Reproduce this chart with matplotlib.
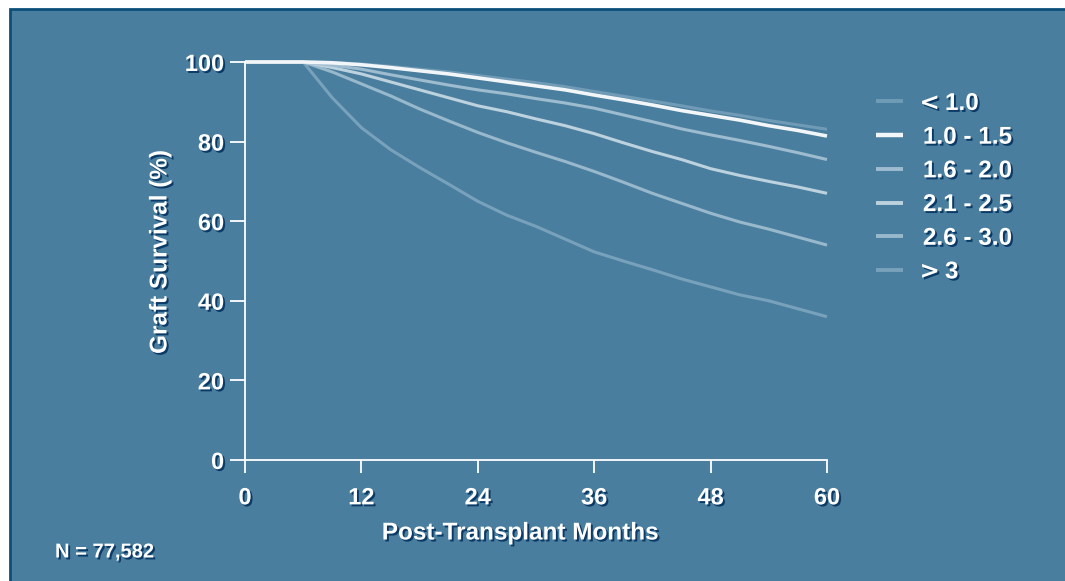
import matplotlib
matplotlib.use("Agg")
import matplotlib.pyplot as plt
import matplotlib.patheffects as pe
from matplotlib.patches import Rectangle

# months after transplant
months = [0, 6, 9, 12, 15, 18, 21, 24, 27, 30, 33, 36, 39, 42, 45, 48, 51, 54, 57, 60]

# graft survival (%) per group
surv_lt_1_0 = [100, 100, 99.9, 99.5, 98.9, 98.2, 97.5, 96.6, 95.7, 94.8, 93.8, 92.6,
               91.4, 90.2, 89.0, 87.7, 86.6, 85.3, 84.2, 83.1]
surv_1_0_1_5 = [100, 100, 99.8, 99.3, 98.6, 97.8, 97.0, 96.0, 95.0, 94.0, 93.0, 91.7,
                90.5, 89.2, 87.8, 86.6, 85.4, 84.0, 82.8, 81.4]
surv_1_6_2_0 = [100, 100, 99.2, 98.2, 96.8, 95.5, 94.2, 93.0, 92.0, 90.8, 89.7, 88.4,
                86.7, 85.0, 83.2, 81.7, 80.3, 78.8, 77.2, 75.5]
surv_2_1_2_5 = [100, 100, 98.6, 97.0, 95.0, 93.0, 91.0, 89.0, 87.5, 85.7, 84.0, 82.0,
                79.7, 77.5, 75.5, 73.2, 71.5, 70.0, 68.6, 67.0]
surv_2_6_3_0 = [100, 100, 97.5, 94.5, 91.5, 88.2, 85.2, 82.3, 79.7, 77.3, 75.0, 72.5,
                69.8, 67.0, 64.5, 62.0, 59.8, 58.0, 56.0, 54.0]
surv_gt_3 = [100, 100, 91.0, 83.5, 78.0, 73.5, 69.3, 65.0, 61.5, 58.7, 55.5, 52.3,
             50.0, 47.8, 45.5, 43.5, 41.5, 40.0, 38.0, 36.0]

labels = [r"$\!\!<$1.0", "1.0 - 1.5", "1.6 - 2.0", "2.1 - 2.5", "2.6 - 3.0", r"$\!\!>$3"]
series = [surv_lt_1_0, surv_1_0_1_5, surv_1_6_2_0, surv_2_1_2_5, surv_2_6_3_0, surv_gt_3]
colors = ["#6f9bb6", "#f2f6f9", "#9dbccf", "#bcd2df", "#98b8cc", "#78a1bb"]
widths = [2.2, 2.6, 2.2, 2.2, 2.2, 2.2]

BG = "#4a7e9e"
EDGE = "#0d4f7a"
SHADOW = [pe.withSimplePatchShadow(offset=(1.4, -1.4), shadow_rgbFace="#0b3a66", alpha=1.0)]

plt.rcParams["font.family"] = ["Liberation Sans", "DejaVu Sans"]
plt.rcParams["font.weight"] = "bold"

fig = plt.figure(figsize=(10.65, 5.81), dpi=100)
fig.patch.set_facecolor("white")
fig.patches.append(Rectangle((10 / 1065, -0.05), 1.1, 1 - 9 / 581 + 0.05,
                             transform=fig.transFigure, facecolor=BG,
                             edgecolor=EDGE, linewidth=2.0, zorder=-10))

ax = fig.add_axes([245 / 1065, 1 - 460 / 581, 582 / 1065, 398 / 581])
ax.set_facecolor("none")
ax.set_zorder(5)

# draw the white (1.0 - 1.5) line last so it sits on top
order = [5, 4, 3, 2, 0, 1]
handles = [None] * len(series)
for i in order:
    (ln,) = ax.plot(months, series[i], color=colors[i], lw=widths[i],
                    label=labels[i], clip_on=False, solid_capstyle="butt")
    handles[i] = ln

ax.set_xlim(0, 60)
ax.set_ylim(0, 100)
ax.set_xticks(range(0, 61, 12))
ax.set_yticks(range(0, 101, 20))

for s in ["top", "right"]:
    ax.spines[s].set_visible(False)
for s in ["left", "bottom"]:
    ax.spines[s].set_color("white")
    ax.spines[s].set_linewidth(1.3)

ax.tick_params(axis="y", direction="out", length=11, width=1.3, color="white",
               pad=4, labelsize=17, labelcolor="white")
ax.tick_params(axis="x", direction="out", length=9, width=1.3, color="white",
               pad=10, labelsize=17, labelcolor="white")
for t in ax.get_xticklabels() + ax.get_yticklabels():
    t.set_fontweight("bold")
    t.set_path_effects(SHADOW)

ax.set_xlabel("Post-Transplant Months", fontsize=17.5, fontweight="bold",
              color="white", path_effects=SHADOW)
ax.xaxis.set_label_coords((520 - 245) / 582, (460 - 533) / 398)
ax.xaxis.label.set_va("center")
ax.set_ylabel("Graft Survival (%)", fontsize=17.5, fontweight="bold",
              color="white", path_effects=SHADOW)
ax.yaxis.set_label_coords((160 - 245) / 582, (460 - 252) / 398)
ax.yaxis.label.set_va("center")

leg = ax.legend(handles=handles, labels=labels, loc="upper left",
                bbox_to_anchor=(876 / 1065, 1 - 92 / 581), bbox_transform=fig.transFigure,
                frameon=False, borderpad=0, borderaxespad=0, fontsize=17.5,
                handlelength=1.11, handletextpad=0.82, labelspacing=0.44)
for t in leg.get_texts():
    t.set_color("white")
    t.set_fontweight("bold")
    t.set_path_effects(SHADOW)
for h, w in zip(leg.get_lines(), widths):
    h.set_linewidth(w + 0.6)

fig.text(55 / 1065, 1 - 552 / 581, "N = 77,582", fontsize=14.5, fontweight="bold",
         color="white", va="center", ha="left", path_effects=SHADOW)

fig.savefig("out.png", dpi=100, facecolor=fig.get_facecolor())
